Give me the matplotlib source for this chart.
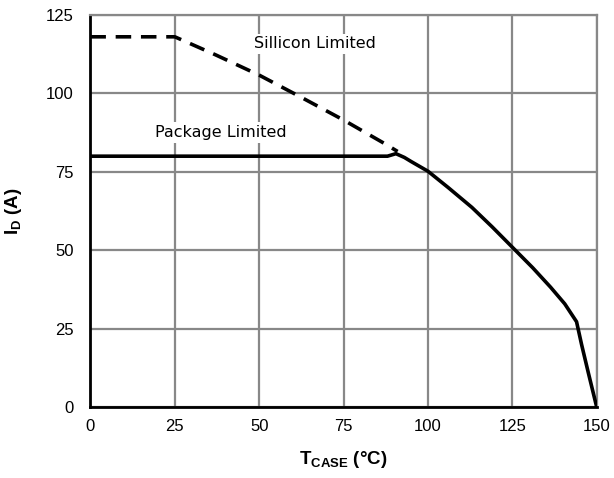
import matplotlib
matplotlib.use("Agg")
import matplotlib.pyplot as plt

plt.rcParams['font.family'] = ['Liberation Sans', 'DejaVu Sans']
plt.rcParams['mathtext.fontset'] = 'custom'
plt.rcParams['mathtext.rm'] = 'Liberation Sans'
plt.rcParams['mathtext.bf'] = 'Liberation Sans:bold'

# Silicon limited (dashed)
si_x = [0, 25, 37, 50, 62, 75, 87, 91]
si_y = [118, 118, 112.3, 105.8, 99, 91.5, 84.1, 81.5]

# Package limited + derating curve (solid)
pk_x = [0, 88, 90.5, 93, 95, 100, 106, 113, 119, 125, 131, 136.3, 140.5, 144, 145.5, 147.5, 150]
pk_y = [80, 80, 80.8, 79.6, 78.3, 75.2, 70, 63.7, 57.5, 51, 44.5, 38.3, 33, 27.3, 20, 11, 0]

xticks = [0, 25, 50, 75, 100, 125, 150]
yticks = [0, 25, 50, 75, 100, 125]

fig = plt.figure(figsize=(6.14, 4.78), dpi=100)
ax = fig.add_axes([0.1472, 0.1475, 0.8248, 0.8215])

ax.plot(si_x, si_y, color='black', lw=2.6, ls=(0, (4.3, 2.7)), zorder=3)
ax.plot(pk_x, pk_y, color='black', lw=2.6, zorder=4, solid_joinstyle='round')

ax.set_xlim(0, 150)
ax.set_ylim(0, 125)
ax.set_xticks(xticks)
ax.set_yticks(yticks)
ax.tick_params(length=0, labelsize=12)
ax.tick_params(axis='y', pad=12)
ax.tick_params(axis='x', pad=8)
ax.grid(True, color='#888888', lw=1.6)
ax.set_axisbelow(True)

for s in ['top', 'right']:
    ax.spines[s].set_color('#888888')
    ax.spines[s].set_linewidth(1.6)
for s in ['left', 'bottom']:
    ax.spines[s].set_color('black')
    ax.spines[s].set_linewidth(2)

ax.text(66.5, 115.8, 'Sillicon Limited', ha='center', va='center', fontsize=11.5,
        family=['DejaVu Sans'],
        bbox=dict(facecolor='white', edgecolor='none', pad=2))
ax.text(38.5, 87.6, 'Package Limited', ha='center', va='center', fontsize=11.5,
        family=['DejaVu Sans'],
        bbox=dict(facecolor='white', edgecolor='none', pad=2))

ax.set_xlabel(r'$\mathbf{T}_{\mathbf{CASE}}$ (°C)', fontsize=13.5, fontweight='bold', labelpad=11)
ax.set_ylabel(r'$\mathbf{I}_{\mathbf{D}}$ (A)', fontsize=13.5, fontweight='bold', labelpad=16)

fig.savefig('out.png', dpi=100)
